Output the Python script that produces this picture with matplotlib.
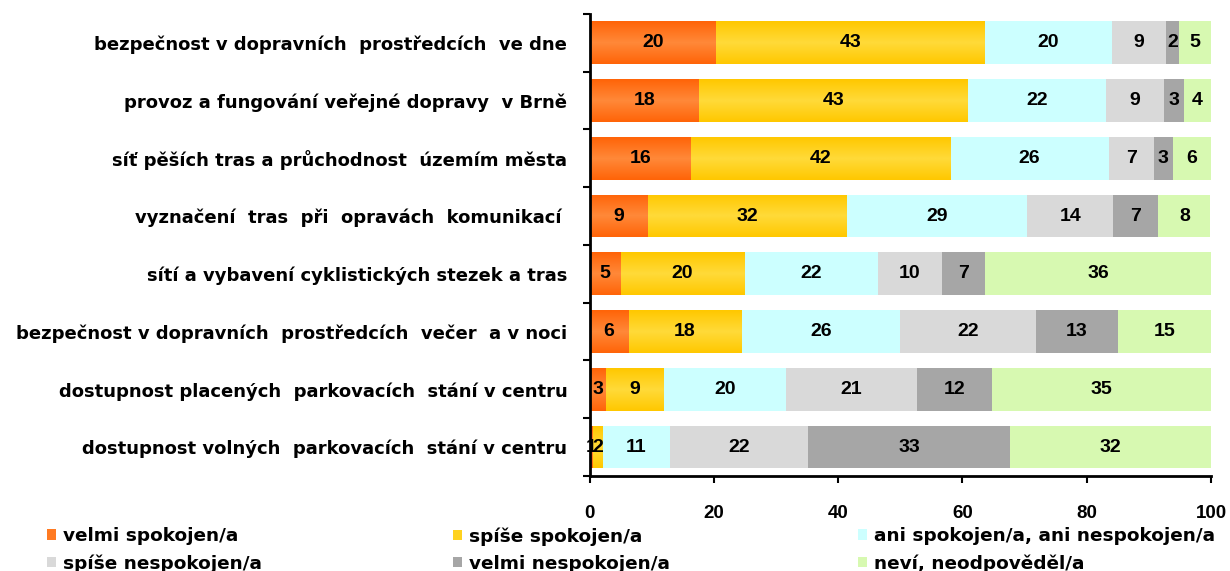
import numpy as np
import matplotlib.pyplot as plt
from matplotlib.colors import LinearSegmentedColormap

plt.rcParams['font.family'] = ['Liberation Sans', 'DejaVu Sans']

# Categories (top to bottom)
categories = [
    "bezpečnost v dopravních  prostředcích  ve dne",
    "provoz a fungování veřejné dopravy  v Brně",
    "síť pěších tras a průchodnost  územím města",
    "vyznačení  tras  při  opravách  komunikací ",
    "sítí a vybavení cyklistických stezek a tras",
    "bezpečnost v dopravních  prostředcích  večer  a v noci",
    "dostupnost placených  parkovacích  stání v centru",
    "dostupnost volných  parkovacích  stání v centru",
]

# Answer series (percent)
velmi_spokojen = [20.4, 17.6, 16.3, 9.4, 5.0, 6.3, 2.6, 0.6]
spise_spokojen = [43.2, 43.2, 41.7, 32.0, 19.8, 18.1, 9.3, 1.6]
ani_ani = [20.4, 22.3, 25.6, 29.0, 21.6, 25.6, 19.7, 10.7]
spise_nespokojen = [8.7, 9.4, 7.2, 13.9, 10.3, 21.9, 21.1, 22.2]
velmi_nespokojen = [2.2, 3.1, 3.0, 7.2, 7.0, 13.1, 12.0, 32.6]
nevi = [5.1, 4.4, 6.2, 8.4, 36.3, 15.0, 35.3, 32.3]

series_names = ["velmi spokojen/a", "spíše spokojen/a", "ani spokojen/a, ani nespokojen/a",
                "spíše nespokojen/a", "velmi nespokojen/a", "neví, neodpověděl/a"]
series = [velmi_spokojen, spise_spokojen, ani_ani, spise_nespokojen, velmi_nespokojen, nevi]
colors = ["#FF7A22", "#FFD21F", "#CCFFFF", "#D9D9D9", "#A6A6A6", "#D7F9B1"]
# vertical shading for the two first series (edge, middle)
shades = {0: ("#FF6408", "#FF8838"), 1: ("#FFC800", "#FFDA38")}

fig = plt.figure(figsize=(12.3, 5.71), dpi=100)
ax = fig.add_axes([0.4793, 0.1664, 0.5053, 0.8091])

y = np.arange(len(categories))
left = np.zeros(len(categories))
handles = []
grad = np.abs(np.linspace(-1, 1, 64)).reshape(-1, 1)
for k, (name, vals, col) in enumerate(zip(series_names, series, colors)):
    vals = np.array(vals)
    bars = ax.barh(y, vals, left=left, height=0.74, color=col, edgecolor='none', label=name)
    handles.append(bars)
    if k in shades:
        cmap = LinearSegmentedColormap.from_list("sh", [shades[k][1], shades[k][0]])
        for b in bars:
            x0, y0 = b.get_x(), b.get_y()
            im = ax.imshow(grad, cmap=cmap, aspect='auto', interpolation='bilinear',
                           extent=[x0, x0 + b.get_width(), y0 + b.get_height(), y0], zorder=1.5)
            im.set_clip_path(b)
    for yi, l, v in zip(y, left, vals):
        ax.text(l + v / 2, yi, f"{v:.0f}", ha='center', va='center',
                fontsize=14, fontweight='bold', color='black', zorder=3)
    left += vals

ax.set_xlim(0, 100)
ax.set_ylim(len(categories) - 0.5, -0.5)
ax.set_xticks([0, 20, 40, 60, 80, 100])
ax.set_xticklabels(["0", "20", "40", "60", "80", "100"], fontsize=13.5, fontweight='bold')
ax.set_yticks(y)
ax.set_yticklabels(categories, fontsize=13, fontweight='bold', family='DejaVu Sans')
ax.set_yticks(np.arange(-0.5, len(categories)), minor=True)
ax.tick_params(axis='y', which='major', length=0, pad=16)
ax.tick_params(axis='y', which='minor', length=5, width=1.5, direction='out')
ax.tick_params(axis='x', length=5, width=1.5, direction='out', pad=16)
for s in ['top', 'right']:
    ax.spines[s].set_visible(False)
ax.spines['left'].set_linewidth(2)
ax.spines['bottom'].set_linewidth(2)

# legend: three columns, two rows
col_x = [0.0382, 0.3683, 0.6976]
for i in range(3):
    fig.legend([handles[i], handles[i + 3]], [series_names[i], series_names[i + 3]],
               loc='center left', bbox_to_anchor=(col_x[i], 0.037), frameon=False,
               prop={'weight': 'bold', 'size': 13.3, 'family': 'DejaVu Sans'},
               handlelength=0.5, handleheight=0.5, handletextpad=0.35,
               labelspacing=0.5, borderpad=0, borderaxespad=0)

fig.savefig("out.png", dpi=100)
